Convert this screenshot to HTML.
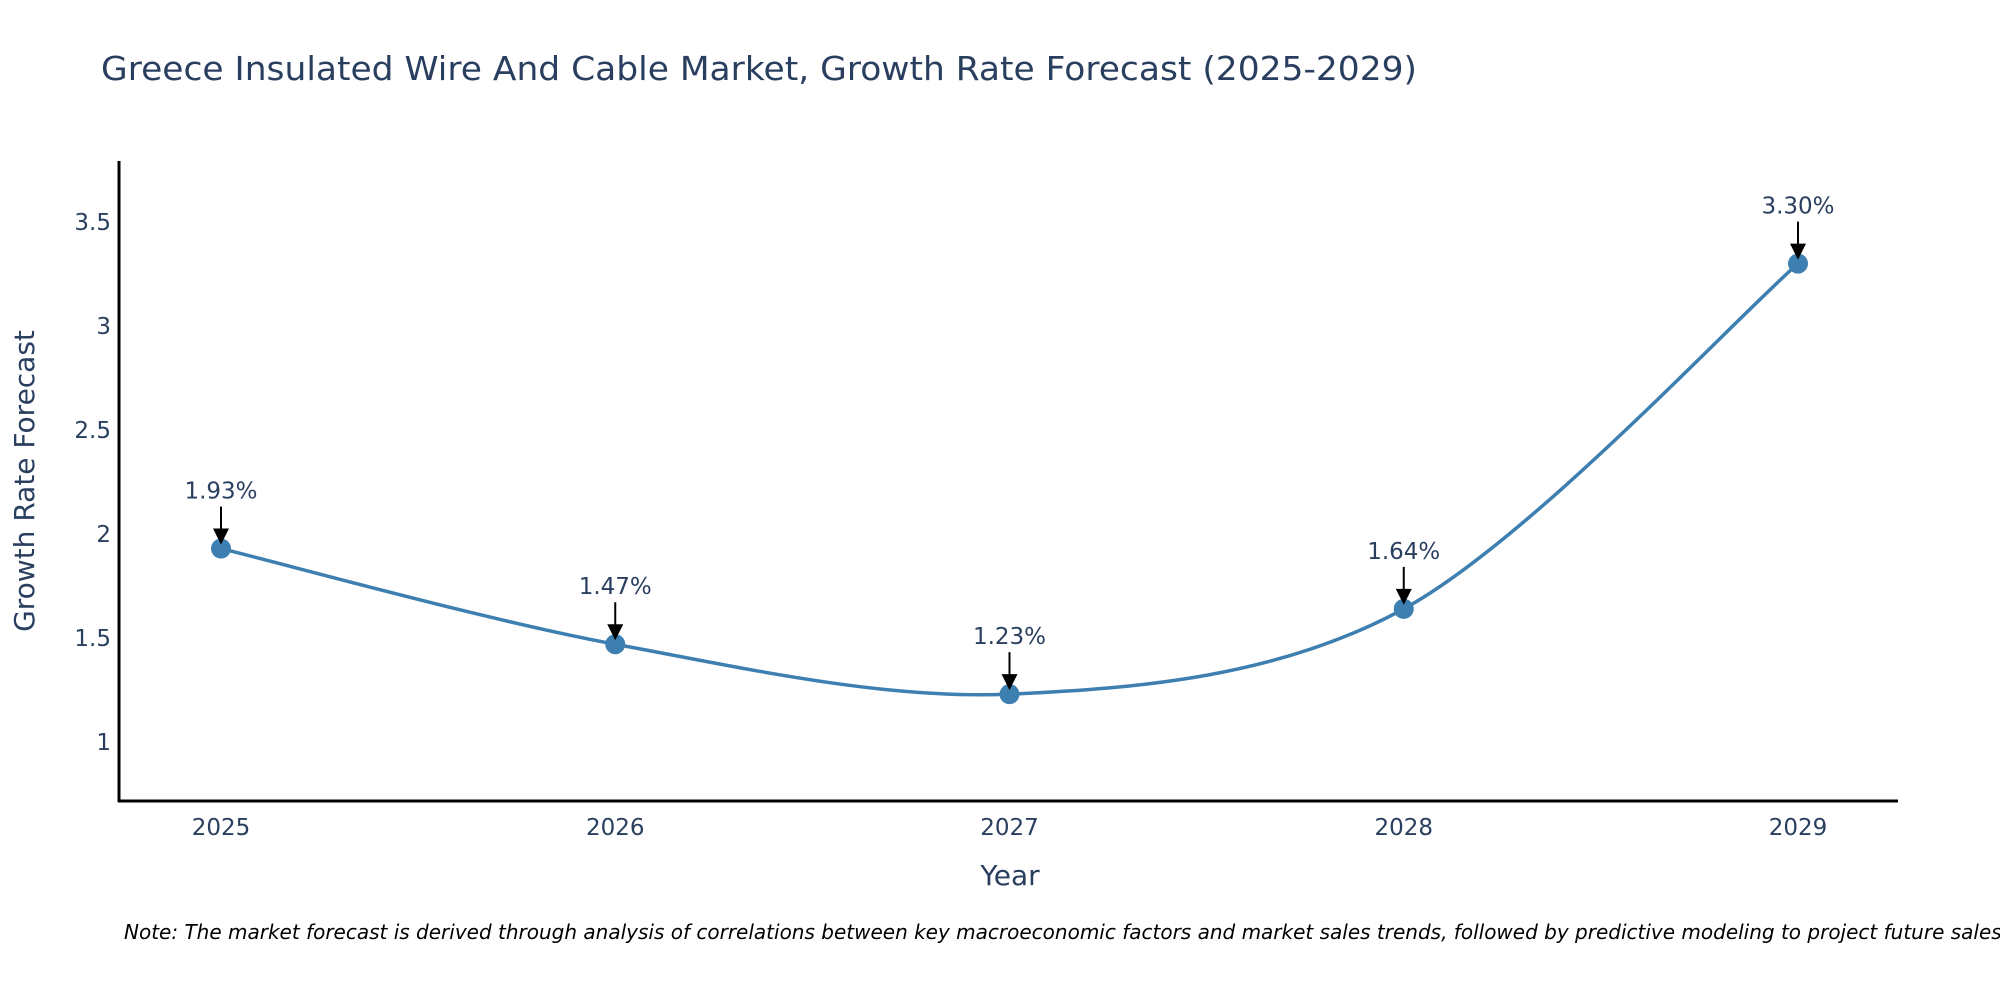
<!DOCTYPE html>
<html><head><meta charset="utf-8"><style>
html,body{margin:0;padding:0;background:#fff;}
svg{display:block;font-family:"DejaVu Sans","Liberation Sans",sans-serif;}
</style></head><body>
<svg id="chart" width="2000" height="1000" viewBox="0 0 2000 1000">
<text x="101" y="80" font-size="33" fill="#2a3f5f" textLength="1316" lengthAdjust="spacingAndGlyphs">Greece Insulated Wire And Cable Market, Growth Rate Forecast (2025-2029)</text>
<g id="yticks"></g>
<g id="xticks"></g>
<line x1="119" y1="161" x2="119" y2="802" stroke="#000" stroke-width="3"/>
<line x1="118" y1="801" x2="1898" y2="801" stroke="#000" stroke-width="3"/>
<text x="0" y="0" transform="translate(34,481) rotate(-90)" text-anchor="middle" font-size="28" fill="#2a3f5f">Growth Rate Forecast</text>
<text x="1010" y="885" text-anchor="middle" font-size="28" fill="#2a3f5f">Year</text>
<path id="curve" fill="none" stroke="#3d7fb0" stroke-width="3.5"/>
<g id="marks"></g>
<text x="124" y="939" font-size="20" font-style="italic" fill="#000">Note: The market forecast is derived through analysis of correlations between key macroeconomic factors and market sales trends, followed by predictive modeling to project future sales.</text>
</svg>
<script>
const years = ["2025","2026","2027","2028","2029"];
const values = [1.93, 1.47, 1.23, 1.64, 3.30];
const yTicks = [1, 1.5, 2, 2.5, 3, 3.5];
const labels = ["1.93%","1.47%","1.23%","1.64%","3.30%"];

const NS = "http://www.w3.org/2000/svg";
const xPos = i => 221 + i * 394.25;
const yPos = v => 742 - (v - 1) * 208;
function mk(tag, attrs, parent){const e=document.createElementNS(NS,tag);for(const k in attrs)e.setAttribute(k,attrs[k]);parent.appendChild(e);return e;}

const yt = document.getElementById('yticks');
yTicks.forEach(v=>{
  const t = mk('text',{x:111,y:yPos(v)+8,'text-anchor':'end','font-size':23,fill:'#2a3f5f'},yt);
  
  
  t.textContent = String(v);
});
const xt = document.getElementById('xticks');
years.forEach((y,i)=>{
  const t = mk('text',{x:xPos(i),y:835,'text-anchor':'middle','font-size':23,fill:'#2a3f5f'},xt);
  
  
  t.textContent = y;
});

const pts = values.map((v,i)=>[xPos(i),yPos(v)]);
let d = `M${pts[0][0]},${pts[0][1]}`;
const s = 0.16;
for(let i=0;i<pts.length-1;i++){
  const p0=pts[Math.max(i-1,0)],p1=pts[i],p2=pts[i+1],p3=pts[Math.min(i+2,pts.length-1)];
  const c1=[p1[0]+(p2[0]-p0[0])*s,p1[1]+(p2[1]-p0[1])*s];
  const c2=[p2[0]-(p3[0]-p1[0])*s,p2[1]-(p3[1]-p1[1])*s];
  d+=` C${c1[0]},${c1[1]} ${c2[0]},${c2[1]} ${p2[0]},${p2[1]}`;
}
document.getElementById('curve').setAttribute('d',d);

const g = document.getElementById('marks');
pts.forEach((p,i)=>{
  const c = mk('circle',{cx:p[0],cy:p[1],r:10,fill:'#3d7fb0'},g);
  
  
  const a = mk('line',{x1:p[0],y1:p[1]-42,x2:p[0],y2:p[1]-18,stroke:'#000','stroke-width':2},g);
  
  
  const h = mk('polygon',{points:`${p[0]-8},${p[1]-20} ${p[0]+8},${p[1]-20} ${p[0]},${p[1]-4}`,fill:'#000'},g);
  
  
  const t = mk('text',{x:p[0],y:p[1]-50,'text-anchor':'middle','font-size':23,fill:'#2a3f5f'},g);
  
  
  t.textContent = labels[i];
});
</script>
</body></html>
